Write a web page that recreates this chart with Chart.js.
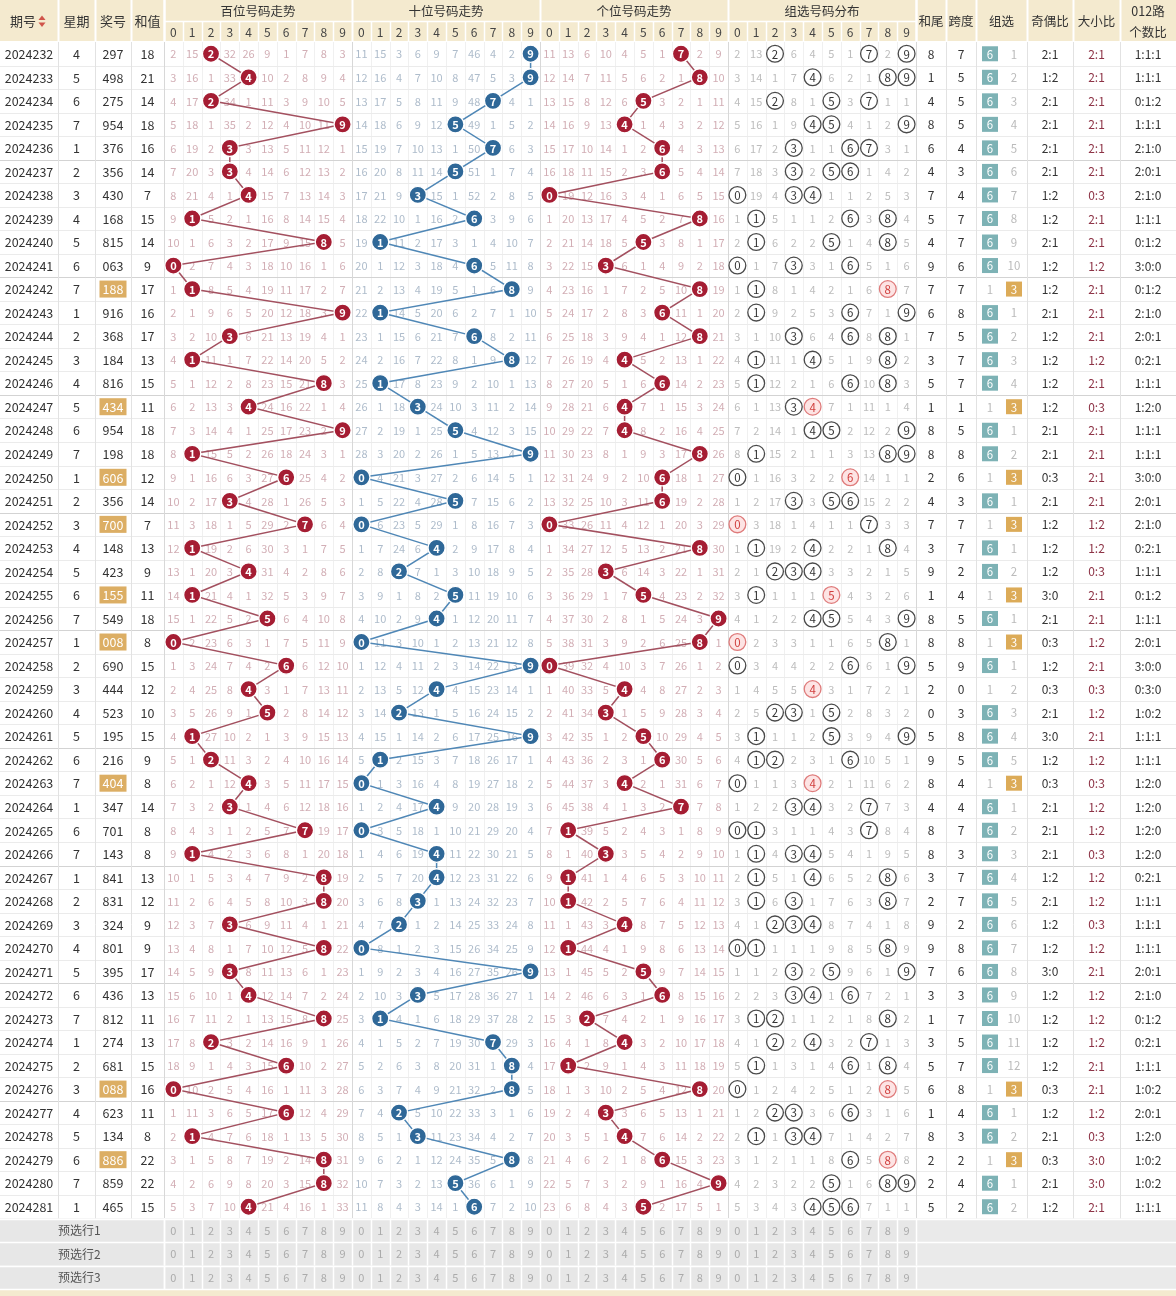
<!DOCTYPE html>
<html>
<head>
<meta charset="utf-8">
<title>3D 走势图</title>
<script src="https://cdn.jsdelivr.net/npm/chart.js@4.4.1/dist/chart.umd.min.js"></script>
<style>
  html, body { margin: 0; padding: 0; background: #fff; }
  #wrap { width: 1176px; height: 1296px; }
</style>
</head>
<body>
<div id="wrap"><canvas id="trendChart" width="1176" height="1296"></canvas></div>
<script>
// -- Data --
const issues = ['2024232','2024233','2024234','2024235','2024236','2024237','2024238','2024239','2024240','2024241',
  '2024242','2024243','2024244','2024245','2024246','2024247','2024248','2024249','2024250','2024251',
  '2024252','2024253','2024254','2024255','2024256','2024257','2024258','2024259','2024260','2024261',
  '2024262','2024263','2024264','2024265','2024266','2024267','2024268','2024269','2024270','2024271',
  '2024272','2024273','2024274','2024275','2024276','2024277','2024278','2024279','2024280','2024281'];
const weekdays = [4,5,6,7,1,2,3,4,5,6, 7,1,2,3,4,5,6,7,1,2, 3,4,5,6,7,1,2,3,4,5, 6,7,1,6,7,1,2,3,4,5, 6,7,1,2,3,4,5,6,7,1];
const draws = ['297','498','275','954','376','356','430','168','815','063',
  '188','916','368','184','816','434','954','198','606','356',
  '700','148','423','155','549','008','690','444','523','195',
  '216','404','347','701','143','841','831','324','801','395',
  '436','812','274','681','088','623','134','886','859','465'];
const sums = [18,21,14,18,16,14,7,15,14,9, 17,16,17,13,15,11,18,18,12,14,
  7,13,9,11,18,8,15,12,10,15, 9,8,14,8,8,13,12,9,9,17, 13,11,13,15,16,11,8,22,22,15];
const digitTicks = ['0','1','2','3','4','5','6','7','8','9'];
// omission values shown on the first row (0 = hit)
const firstBai = [2,15,0,32,26,9,1,7,8,3];
const firstShi = [11,15,3,6,9,7,46,4,2,0];
const firstGe = [11,13,6,10,4,5,1,0,2,9];
const firstZu = [2,13,0,6,4,5,1,0,2,0];
const firstZu6 = 0;
const firstZu3 = 1;
const predLabels = ['预选行1','预选行2','预选行3'];
const sectionTitles = ['百位号码走势','十位号码走势','个位号码走势','组选号码分布'];

// -- Layout --
const W = 1176, H = 1296;
const HEAD_MID = 21, HEAD_H = 42, ROW_H = 23.53;
const CELL = 18.8;
const LEFT_EDGES = [0, 58, 95, 131, 164];
const SEC_X = [164, 352, 540, 728, 916];
const RIGHT_EDGES = [916, 946, 976, 1027, 1073, 1120, 1176];
const FONT = '"Noto Sans CJK SC", "Noto Sans", sans-serif';
const HEAD_BG = '#f4eacf';
const BALL_COL = ['#a51d33', '#2f6898', '#a51d33'];
const LINE_COL = ['#a3505f', '#4f87b6', '#a3505f'];
const MISS_COL = ['#d2aeb5', '#aebccb', '#d2aeb5', '#bdbdbd'];

const N = draws.length;
const rowY = i => HEAD_H + (i + 0.5) * ROW_H;
const cellX = (s, d) => SEC_X[s] + (d + 0.5) * CELL;

// -- Derived columns --
const digits = draws.map(s => s.split('').map(Number));

function missTable(first, hits) {
  const rows = [];
  hits.forEach((h, i) => {
    const row = [];
    for (let d = 0; d < 10; d++) {
      if (h.includes(d)) row.push(0);
      else row.push(i === 0 ? first[d] : rows[i - 1][d] + 1);
    }
    rows.push(row);
  });
  return rows;
}
const missBai = missTable(firstBai, digits.map(d => [d[0]]));
const missShi = missTable(firstShi, digits.map(d => [d[1]]));
const missGe = missTable(firstGe, digits.map(d => [d[2]]));
const missZu = missTable(firstZu, digits);
const missTables = [missBai, missShi, missGe, missZu];

const kinds = digits.map(d => new Set(d).size); // 3 = 组六, 2 = 组三, 1 = 豹子
const zu6 = [], zu3 = [];
kinds.forEach((k, i) => {
  zu6.push(k === 3 ? 0 : (i === 0 ? firstZu6 : zu6[i - 1] + 1));
  zu3.push(k === 2 ? 0 : (i === 0 ? firstZu3 : zu3[i - 1] + 1));
});

const oddEven = digits.map(d => { const o = d.filter(v => v % 2).length; return o + ':' + (3 - o); });
const bigSmall = digits.map(d => { const b = d.filter(v => v >= 5).length; return b + ':' + (3 - b); });
const road012 = digits.map(d => [0, 1, 2].map(r => d.filter(v => v % 3 === r).length).join(':'));

// -- Datasets --
const ballSets = [0, 1, 2].map(s => ({
  label: sectionTitles[s],
  data: digits.map((d, i) => ({ x: cellX(s, d[s]), y: rowY(i), n: d[s] })),
  showLine: true,
  borderColor: LINE_COL[s],
  borderWidth: 1.5,
  pointRadius: 8.6,
  pointBackgroundColor: BALL_COL[s],
  pointBorderColor: '#fff',
  pointBorderWidth: 1.4
}));

const zuPoints = [];
digits.forEach((d, i) => {
  [...new Set(d)].forEach(v => {
    zuPoints.push({ x: cellX(3, v), y: rowY(i), n: v, dup: d.filter(t => t === v).length > 1 });
  });
});
const zuSet = {
  label: sectionTitles[3],
  data: zuPoints,
  showLine: false,
  pointRadius: 8.4,
  pointBackgroundColor: c => c.raw && c.raw.dup ? '#fde4e4' : '#fff',
  pointBorderColor: c => c.raw && c.raw.dup ? '#df7b7b' : '#4a4a4a',
  pointBorderWidth: 1.3
};

// -- Table plugin: grid, headers and cell text --
const tablePlugin = {
  id: 'tableGrid',
  beforeDatasetsDraw(chart) {
    const c = chart.ctx, sx = chart.scales.x, sy = chart.scales.y;
    const X = v => sx.getPixelForValue(v), Y = v => sy.getPixelForValue(v);
    const box = (x0, y0, x1, y1, col) => {
      c.fillStyle = col;
      c.fillRect(X(x0), Y(y0), X(x1) - X(x0), Y(y1) - Y(y0));
    };
    const vline = (x, y0, y1, col, w) => {
      c.strokeStyle = col; c.lineWidth = w || 1;
      c.beginPath(); c.moveTo(Math.round(X(x)) + 0.5, Y(y0)); c.lineTo(Math.round(X(x)) + 0.5, Y(y1)); c.stroke();
    };
    const hline = (y, x0, x1, col, w) => {
      c.strokeStyle = col; c.lineWidth = w || 1;
      c.beginPath(); c.moveTo(X(x0), Math.round(Y(y)) + 0.5); c.lineTo(X(x1), Math.round(Y(y)) + 0.5); c.stroke();
    };
    const text = (s, x, y, col, size, align, weight) => {
      c.fillStyle = col;
      c.font = (weight || 'normal') + ' ' + size + 'px ' + FONT;
      c.textAlign = align || 'center';
      c.textBaseline = 'middle';
      c.fillText(s, X(x), Y(y) + 0.5);
    };
    c.save();

    // body background
    box(0, HEAD_H, W, H, '#fff');

    // header
    box(0, 0, W, HEAD_H, HEAD_BG);
    LEFT_EDGES.slice(1).forEach(x => vline(x, 0, HEAD_H, '#fff', 2));
    SEC_X.forEach(x => vline(x, 0, HEAD_H, '#fff', 2));
    RIGHT_EDGES.slice(0, -1).forEach(x => vline(x, 0, HEAD_H, '#fff', 2));
    hline(HEAD_MID, SEC_X[0], SEC_X[4], '#fff', 1.5);
    hline(HEAD_H - 1, 0, W, '#fff', 1);
    const leftHead = ['期号', '星期', '奖号', '和值'];
    leftHead.forEach((t, k) => {
      const cx = (LEFT_EDGES[k] + (LEFT_EDGES[k + 1] || SEC_X[0])) / 2;
      text(t, k === 0 ? cx - 6 : cx, HEAD_MID, '#333', 13);
    });
    // sort icon beside 期号
    c.fillStyle = '#d0544a';
    const ix = X(42), iy = Y(HEAD_MID);
    c.beginPath(); c.moveTo(ix - 3.5, iy - 1); c.lineTo(ix + 3.5, iy - 1); c.lineTo(ix, iy - 5.5); c.fill();
    c.beginPath(); c.moveTo(ix - 3.5, iy + 1.5); c.lineTo(ix + 3.5, iy + 1.5); c.lineTo(ix, iy + 6); c.fill();
    for (let s = 0; s < 4; s++) {
      text(sectionTitles[s], (SEC_X[s] + SEC_X[s + 1]) / 2, 11, '#333', 12.5);
      digitTicks.forEach((t, d) => {
        if (d > 0) vline(SEC_X[s] + d * CELL, HEAD_MID, HEAD_H, '#fff', 1.5);
        text(t, cellX(s, d), 31.5, '#444', 12);
      });
    }
    const rightHead = ['和尾', '跨度', '组选', '奇偶比', '大小比'];
    rightHead.forEach((t, k) => text(t, (RIGHT_EDGES[k] + RIGHT_EDGES[k + 1]) / 2, HEAD_MID, '#333', 12.5));
    text('012路', (RIGHT_EDGES[5] + RIGHT_EDGES[6]) / 2, 11, '#333', 12.5);
    text('个数比', (RIGHT_EDGES[5] + RIGHT_EDGES[6]) / 2, 32, '#333', 12.5);

    // body grid
    const bodyEnd = HEAD_H + N * ROW_H;
    for (let s = 0; s < 4; s++) {
      for (let d = 1; d < 10; d++) vline(SEC_X[s] + d * CELL, HEAD_H, bodyEnd, '#f0f0f0');
    }
    for (let i = 1; i <= N; i++) {
      const y = HEAD_H + i * ROW_H;
      hline(y, 0, W, i % 5 === 0 ? '#d3d3d3' : '#ebebeb');
    }
    LEFT_EDGES.slice(1).forEach(x => vline(x, HEAD_H, bodyEnd, '#e2e2e2'));
    SEC_X.forEach(x => vline(x, HEAD_H, bodyEnd, '#d8d8d8'));
    [946, 976, 1027, 1073, 1120].forEach(x => vline(x, HEAD_H, bodyEnd, '#e2e2e2'));

    // body text
    for (let i = 0; i < N; i++) {
      const y = rowY(i);
      text(issues[i], 29, y, '#333', 12.5);
      text(String(weekdays[i]), 76.5, y, '#333', 12.5);
      if (kinds[i] === 2) box(99.5, y - 8.5, 126.5, y + 8.5, '#dcae64');
      text(draws[i], 113, y, kinds[i] === 2 ? '#fff' : '#333', 12.5);
      text(String(sums[i]), 147.5, y, '#333', 12.5);
      for (let s = 0; s < 4; s++) {
        missTables[s][i].forEach((m, d) => {
          if (m > 0) text(String(m), cellX(s, d), y, MISS_COL[s], 11);
        });
      }
      text(String(sums[i] % 10), 931, y, '#333', 12);
      text(String(Math.max(...digits[i]) - Math.min(...digits[i])), 961, y, '#333', 12);
      if (zu6[i] === 0) {
        box(982, y - 7.5, 998, y + 7.5, '#7db2b5');
        text('6', 990, y, '#fff', 11.5);
      } else text(String(zu6[i]), 990, y, '#bbb', 11.5);
      if (zu3[i] === 0) {
        box(1006, y - 7.5, 1022, y + 7.5, '#dcab58');
        text('3', 1014, y, '#fff', 11.5);
      } else text(String(zu3[i]), 1014, y, '#bbb', 11.5);
      text(oddEven[i], 1050, y, '#333', 12);
      text(bigSmall[i], 1096.5, y, '#8d3346', 12);
      text(road012[i], 1148, y, '#333', 12);
    }

    // prediction rows
    predLabels.forEach((lab, k) => {
      const y0 = bodyEnd + k * ROW_H, y1 = y0 + ROW_H, y = y0 + ROW_H / 2;
      box(0, y0, SEC_X[4], y1, '#e7e7e7');
      box(SEC_X[4], y0, W, y1, '#eaeaea');
      hline(y0, 0, W, '#fff', 1.5);
      vline(LEFT_EDGES[4], y0, y1, '#fff', 1.5);
      text(lab, 58, y, '#555', 12, 'left');
      for (let s = 0; s < 4; s++) {
        for (let d = 0; d < 10; d++) {
          vline(SEC_X[s] + d * CELL, y0, y1, '#fff', 1.5);
          text(digitTicks[d], cellX(s, d), y, '#ababab', 11);
        }
      }
      vline(SEC_X[4], y0, y1, '#fff', 1.5);
    });
    const stripY = bodyEnd + 3 * ROW_H;
    box(0, stripY, W, H, HEAD_BG);
    hline(stripY, 0, W, '#fff', 1.5);
    c.restore();
  },
  afterDatasetsDraw(chart) {
    const c = chart.ctx;
    c.save();
    c.textAlign = 'center';
    c.textBaseline = 'middle';
    chart.data.datasets.forEach((ds, k) => {
      const meta = chart.getDatasetMeta(k);
      meta.data.forEach((pt, j) => {
        const raw = ds.data[j];
        if (k < 3) {
          c.font = 'bold 11px ' + FONT;
          c.fillStyle = '#fff';
        } else {
          c.font = '11.5px ' + FONT;
          c.fillStyle = raw.dup ? '#d0403f' : '#333';
        }
        c.fillText(String(raw.n), pt.x, pt.y + 0.5);
      });
    });
    c.restore();
  }
};

new Chart(document.getElementById('trendChart'), {
  type: 'scatter',
  data: { datasets: [...ballSets, zuSet] },
  options: {
    responsive: false,
    animation: false,
    events: [],
    layout: { padding: 0, autoPadding: false },
    scales: {
      x: { type: 'linear', min: 0, max: W, display: false },
      y: { type: 'linear', min: 0, max: H, reverse: true, display: false }
    },
    plugins: {
      legend: { display: false },
      tooltip: { enabled: false }
    }
  },
  plugins: [tablePlugin]
});
</script>
</body>
</html>
